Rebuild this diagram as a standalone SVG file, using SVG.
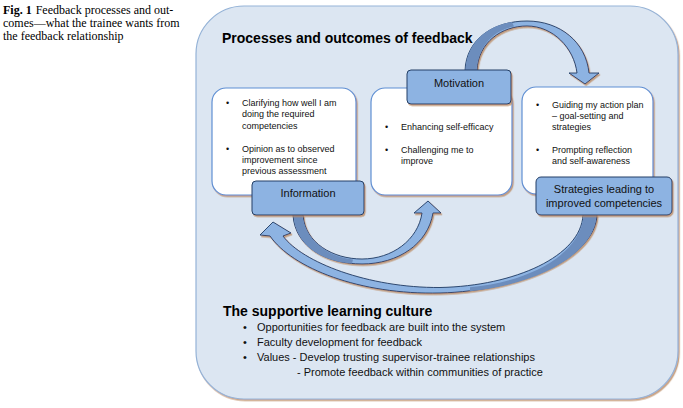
<svg xmlns="http://www.w3.org/2000/svg" width="683" height="408" viewBox="0 0 683 408">
<defs>
<filter id="sh" x="-10%" y="-10%" width="130%" height="130%">
<feDropShadow dx="1.2" dy="1.6" stdDeviation="0.5" flood-color="#b8845a" flood-opacity="0.75"/>
</filter>
<style>
.cap{font-family:"Liberation Serif","Times New Roman",serif;font-size:12px;fill:#000}
.ttl{font-family:"Liberation Sans",Arial,sans-serif;font-size:14px;font-weight:bold;fill:#000}
.bx{font-family:"Liberation Sans",Arial,sans-serif;font-size:9px;fill:#111}
.lb{font-family:"Liberation Sans",Arial,sans-serif;font-size:11px;fill:#111;text-anchor:middle}
.bt{font-family:"Liberation Sans",Arial,sans-serif;font-size:11px;fill:#111}
.panel{fill:#dce6f2;stroke:#95b3d7;stroke-width:1.2}
.wbox{fill:#fff;stroke:#5f8fd3;stroke-width:1.2}
.lbox{fill:#8db3e2;stroke:#243f66;stroke-width:1}
.arr{fill:#8db3e2;stroke:#1f3a62;stroke-width:0.9;stroke-linejoin:round}
.dark{fill:#6c8dbd;stroke:none}
</style>
</defs>
<rect width="683" height="408" fill="#fff"/>
<g id="caption">
<text class="cap" x="3" y="14"><tspan font-weight="bold">Fig. 1</tspan><tspan dx="4">Feedback processes and out-</tspan></text>
<text class="cap" x="3" y="27">comes—what the trainee wants from</text>
<text class="cap" x="3" y="39.5">the feedback relationship</text>
</g>
<g id="panel">
<rect class="panel" x="196" y="6" width="482" height="393" rx="48" ry="48" filter="url(#sh)"/>
<text class="ttl" x="222" y="43">Processes and outcomes of feedback</text>
</g>
<g id="connectors">
<g filter="url(#sh)">
<path class="arr" d="M 465 71 C 466 38, 495 21, 527 21 C 560 21, 586 42, 589 73 L 599 73 L 585 84 L 569 73 L 577 73 C 574 48, 553 26, 527 26 C 502 26, 478 42, 477 71 Z"/>
</g>
<path class="dark" d="M 465.6 71 C 466 45, 485 26, 512 22 L 514 26.6 C 492 30, 478 48, 476.4 71 Z"/>
<g filter="url(#sh)">
<path class="arr" d="M 293 215 C 295 248, 328 264, 362 264 C 398 264, 428 244, 433 213 L 441 213 L 428 201 L 414 213 L 422 213 C 418 240, 392 259, 362 259 C 333 259, 305 243, 303 215 Z"/>
</g>
<path class="dark" d="M 293.6 215 C 295 245, 322 262, 352 263.4 L 353 259.4 C 328 257, 305 240, 302.4 215 Z"/>
<g filter="url(#sh)">
<path class="arr" d="M 597 215 C 595 258, 520 291, 440 293 C 360 295, 292 268, 270 236 L 260 235 L 273 222 L 291 233 L 283 236 C 302 262, 368 288, 440 287.5 C 515 286, 581 256, 583 215 Z"/>
</g>
<path class="dark" d="M 596.4 215 C 595 255, 535 285, 470 291.3 L 470 287.2 C 530 282, 581 254, 583.6 215 Z"/>
</g>
<g id="node-information">
<rect class="wbox" x="212" y="88" width="144" height="107" rx="14" filter="url(#sh)"/>
<text class="bx" x="226" y="106">•</text>
<text class="bx" x="242" y="106">Clarifying how well I am</text>
<text class="bx" x="242" y="117.4">doing the required</text>
<text class="bx" x="242" y="128.8">competencies</text>
<text class="bx" x="226" y="151.5">•</text>
<text class="bx" x="242" y="151.5">Opinion as to observed</text>
<text class="bx" x="242" y="162.8">improvement since</text>
<text class="bx" x="242" y="174.2">previous assessment</text>
<rect class="lbox" x="252" y="181" width="112" height="34" rx="4" filter="url(#sh)"/>
<text class="lb" x="308" y="197">Information</text>
</g>
<g id="node-motivation">
<rect class="wbox" x="371" y="88" width="141" height="107" rx="14" filter="url(#sh)"/>
<text class="bx" x="385" y="130">•</text>
<text class="bx" x="401" y="130">Enhancing self-efficacy</text>
<text class="bx" x="385" y="152.5">•</text>
<text class="bx" x="401" y="152.5">Challenging me to</text>
<text class="bx" x="401" y="163.8">improve</text>
<rect class="lbox" x="407" y="70" width="104" height="34" rx="4" filter="url(#sh)"/>
<text class="lb" x="459" y="86.5">Motivation</text>
</g>
<g id="node-strategies">
<rect class="wbox" x="522" y="87" width="131" height="107" rx="14" filter="url(#sh)"/>
<text class="bx" x="536" y="107.5">•</text>
<text class="bx" x="552" y="107.5">Guiding my action plan</text>
<text class="bx" x="552" y="118.7">– goal-setting and</text>
<text class="bx" x="552" y="130">strategies</text>
<text class="bx" x="536" y="152.5">•</text>
<text class="bx" x="552" y="152.5">Prompting reflection</text>
<text class="bx" x="552" y="163.8">and self-awareness</text>
<rect class="lbox" x="536" y="177" width="136" height="38" rx="5" filter="url(#sh)"/>
<text class="lb" x="604" y="193">Strategies leading to</text>
<text class="lb" x="604" y="207">improved competencies</text>
</g>
<g id="culture">
<text class="ttl" x="223" y="316">The supportive learning culture</text>
<text class="bt" x="243" y="331">•</text>
<text class="bt" x="257" y="331">Opportunities for feedback are built into the system</text>
<text class="bt" x="243" y="346">•</text>
<text class="bt" x="257" y="346">Faculty development for feedback</text>
<text class="bt" x="243" y="361">•</text>
<text class="bt" x="257" y="361">Values - Develop trusting supervisor-trainee relationships</text>
<text class="bt" x="297" y="376">- Promote feedback within communities of practice</text>
</g>
</svg>
